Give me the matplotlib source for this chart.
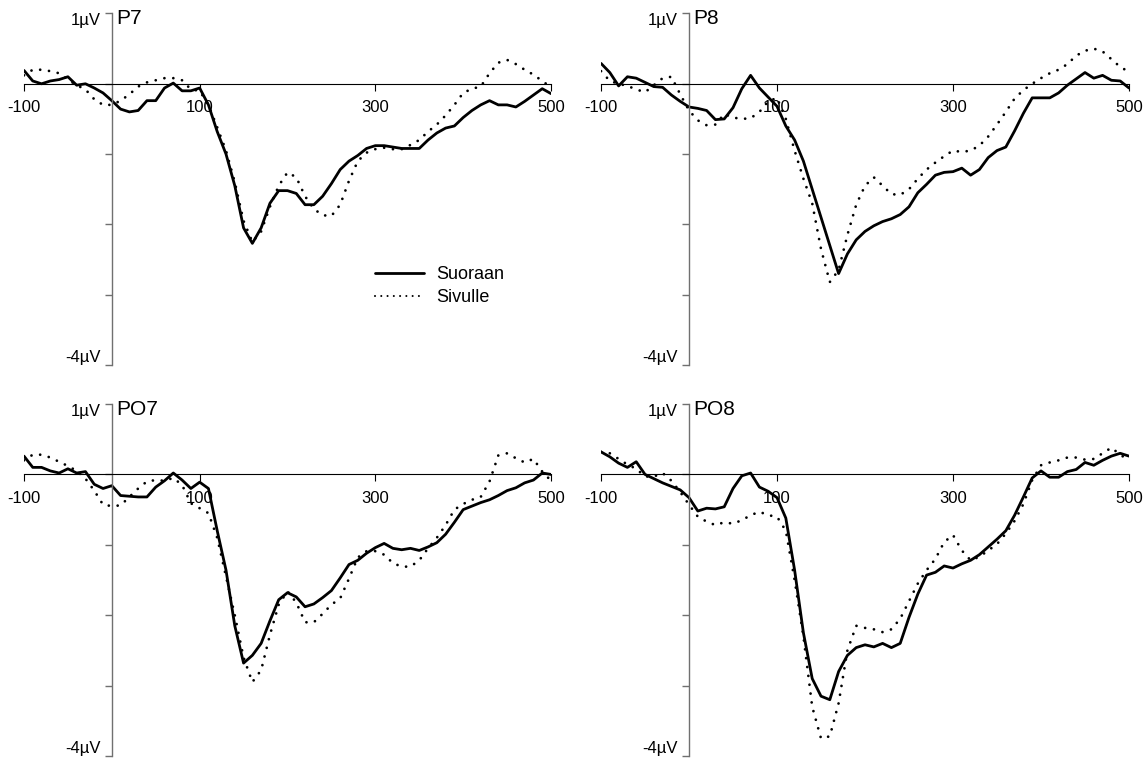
import matplotlib
matplotlib.use("Agg")
import matplotlib.pyplot as plt
import numpy as np

plt.rcParams['font.family'] = ['Liberation Sans', 'DejaVu Sans']

# time axis (ms), one value every 10 ms
times = np.arange(-100, 501, 10)

# amplitudes in microvolts
p7_suoraan = [0.19, 0.04, 0.0, 0.04, 0.06, 0.1, -0.02, 0.0, -0.06, -0.13,
              -0.24, -0.36, -0.4, -0.38, -0.24, -0.24, -0.06, 0.01, -0.1, -0.1,
              -0.06, -0.3, -0.68, -1.0, -1.45, -2.05, -2.27, -2.05, -1.7, -1.52,
              -1.52, -1.56, -1.72, -1.72, -1.6, -1.42, -1.22, -1.1, -1.02, -0.92,
              -0.88, -0.88, -0.9, -0.92, -0.92, -0.92, -0.8, -0.7, -0.63, -0.6,
              -0.48, -0.38, -0.3, -0.24, -0.3, -0.3, -0.33, -0.25, -0.16, -0.07,
              -0.14]
p7_sivulle = [0.12, 0.2, 0.2, 0.18, 0.15, 0.06, -0.02, -0.08, -0.22, -0.3,
              -0.3, -0.24, -0.15, -0.04, 0.02, 0.05, 0.08, 0.08, 0.05, -0.08,
              -0.1, -0.3, -0.62, -0.95, -1.4, -1.95, -2.25, -2.1, -1.75, -1.45,
              -1.26, -1.33, -1.6, -1.78, -1.87, -1.88, -1.72, -1.38, -1.1, -0.98,
              -0.93, -0.91, -0.93, -0.93, -0.87, -0.8, -0.68, -0.58, -0.45, -0.3,
              -0.13, -0.07, -0.04, 0.15, 0.3, 0.34, 0.28, 0.2, 0.13, 0.04,
              -0.05]
p8_suoraan = [0.29, 0.16, -0.03, 0.1, 0.08, 0.02, -0.04, -0.05, -0.16, -0.25,
              -0.33, -0.35, -0.38, -0.51, -0.5, -0.34, -0.07, 0.12, -0.06, -0.19,
              -0.32, -0.6, -0.8, -1.1, -1.5, -1.9, -2.3, -2.7, -2.42, -2.22,
              -2.1, -2.02, -1.96, -1.92, -1.86, -1.75, -1.55, -1.43, -1.3, -1.26,
              -1.25, -1.2, -1.3, -1.22, -1.05, -0.95, -0.9, -0.67, -0.42, -0.2,
              -0.2, -0.2, -0.13, -0.02, 0.07, 0.16, 0.08, 0.12, 0.05, 0.04,
              -0.06]
p8_sivulle = [0.18, 0.04, 0.0, -0.03, -0.08, -0.12, -0.02, 0.08, 0.1, -0.15,
              -0.38, -0.52, -0.59, -0.58, -0.43, -0.48, -0.5, -0.49, -0.4, -0.25,
              -0.2, -0.5, -0.95, -1.35, -1.7, -2.35, -2.82, -2.65, -2.15, -1.72,
              -1.45, -1.33, -1.45, -1.57, -1.58, -1.5, -1.35, -1.22, -1.12, -1.03,
              -0.95, -0.97, -0.95, -0.88, -0.75, -0.58, -0.4, -0.21, -0.09, 0.0,
              0.08, 0.15, 0.2, 0.28, 0.4, 0.47, 0.5, 0.46, 0.35, 0.24,
              0.17]
po7_suoraan = [0.26, 0.1, 0.1, 0.05, 0.02, 0.08, 0.02, 0.04, -0.14, -0.2,
               -0.16, -0.3, -0.31, -0.32, -0.32, -0.18, -0.09, 0.02, -0.08, -0.2,
               -0.11, -0.2, -0.8, -1.36, -2.15, -2.68, -2.57, -2.4, -2.08, -1.78,
               -1.68, -1.74, -1.88, -1.84, -1.75, -1.65, -1.47, -1.28, -1.22, -1.12,
               -1.04, -0.98, -1.05, -1.07, -1.05, -1.08, -1.03, -0.97, -0.85, -0.68,
               -0.5, -0.45, -0.4, -0.36, -0.3, -0.23, -0.19, -0.12, -0.08, 0.02,
               0.0]
po7_sivulle = [0.2, 0.28, 0.28, 0.24, 0.18, 0.12, 0.05, -0.06, -0.23, -0.43,
               -0.45, -0.44, -0.32, -0.2, -0.1, -0.08, -0.09, -0.05, -0.15, -0.41,
               -0.48, -0.55, -0.9, -1.45, -2.0, -2.6, -2.95, -2.78, -2.28, -1.85,
               -1.66, -1.82, -2.1, -2.1, -1.98, -1.85, -1.76, -1.48, -1.18, -1.09,
               -1.09, -1.14, -1.26, -1.31, -1.31, -1.22, -1.05, -0.9, -0.72, -0.5,
               -0.42, -0.36, -0.32, -0.1, 0.27, 0.3, 0.23, 0.17, 0.22, 0.04,
               -0.09]
po8_suoraan = [0.32, 0.25, 0.16, 0.1, 0.18, 0.0, -0.06, -0.12, -0.17, -0.22,
               -0.33, -0.52, -0.48, -0.49, -0.46, -0.2, -0.02, 0.02, -0.18, -0.24,
               -0.33, -0.62, -1.36, -2.25, -2.9, -3.15, -3.2, -2.8, -2.57, -2.46,
               -2.42, -2.45, -2.4, -2.46, -2.4, -2.03, -1.7, -1.43, -1.39, -1.3,
               -1.33, -1.27, -1.22, -1.14, -1.03, -0.92, -0.8, -0.58, -0.32, -0.05,
               0.05, -0.04, -0.04, 0.04, 0.07, 0.17, 0.13, 0.2, 0.26, 0.3,
               0.26]
po8_sivulle = [0.32, 0.3, 0.22, 0.14, 0.08, -0.03, -0.03, 0.02, -0.09, -0.25,
               -0.43, -0.6, -0.67, -0.72, -0.68, -0.7, -0.65, -0.58, -0.53, -0.58,
               -0.6, -0.8, -1.5, -2.3, -3.3, -3.75, -3.72, -3.25, -2.5, -2.15,
               -2.18, -2.2, -2.24, -2.2, -2.05, -1.8, -1.55, -1.36, -1.2, -0.96,
               -0.86, -1.08, -1.22, -1.17, -1.08, -0.99, -0.84, -0.66, -0.42, -0.08,
               0.13, 0.17, 0.2, 0.24, 0.24, 0.21, 0.22, 0.3, 0.38, 0.28,
               0.2]

panel_names = ["P7", "P8", "PO7", "PO8"]
suoraan = [p7_suoraan, p8_suoraan, po7_suoraan, po8_suoraan]
sivulle = [p7_sivulle, p8_sivulle, po7_sivulle, po8_sivulle]
xtick_vals = [-100, 100, 300, 500]
xtick_labels = ["-100", "100", "300", "500"]

fig = plt.figure(figsize=(11.47, 7.58), dpi=100)
positions = [[0.0209, 0.5185, 0.4595, 0.4637],
             [0.524, 0.5185, 0.4603, 0.4637],
             [0.0209, 0.0026, 0.4595, 0.4644],
             [0.524, 0.0026, 0.4603, 0.4644]]

dotted = (0, (0.01, 3.2))

axes = []
for i in range(4):
    ax = fig.add_axes(positions[i])
    ax.patch.set_alpha(0)
    ax.plot(times, suoraan[i], color='black', lw=2.0,
            solid_joinstyle='round', solid_capstyle='round', label='Suoraan')
    ax.plot(times, sivulle[i], color='black', lw=2.0, linestyle=dotted,
            dash_capstyle='round', label='Sivulle')
    ax.set_xlim(-100, 500)
    ax.set_ylim(-4, 1)

    ax.spines['top'].set_visible(False)
    ax.spines['right'].set_visible(False)
    ax.spines['left'].set_position(('data', 0))
    ax.spines['bottom'].set_position(('data', 0))
    ax.spines['left'].set_color('#707070')
    ax.spines['left'].set_linewidth(1.0)
    ax.spines['bottom'].set_color('black')
    ax.spines['bottom'].set_linewidth(0.8)

    ax.set_xticks(xtick_vals)
    ax.set_xticklabels(xtick_labels)
    ax.tick_params(axis='x', direction='out', length=5, width=0.8, pad=7,
                   labelsize=12, colors='black')
    ax.set_yticks([-4, -3, -2, -1, 0, 1])
    ax.set_yticklabels(['-4µV', '', '', '', '', '1µV'])
    ax.tick_params(axis='y', direction='out', length=5, width=1.0, pad=3,
                   labelsize=12, color='#707070', labelcolor='black')
    ylabels = ax.get_yticklabels()
    ylabels[0].set_va('bottom')
    ylabels[-1].set_va('top')

    ax.annotate(panel_names[i], xy=(0, 1), xytext=(3, 3), textcoords='offset points',
                ha='left', va='top', fontsize=15)
    axes.append(ax)

leg = axes[0].legend(loc='upper left', bbox_to_anchor=(375 / 1147, 1 - 266 / 758),
                     bbox_transform=fig.transFigure, frameon=False, fontsize=13,
                     handlelength=2.7, handletextpad=0.7, labelspacing=0.35,
                     borderaxespad=0, borderpad=0)
# finer dots in the legend sample, as in the original
leg.get_lines()[1].set_linewidth(1.5)
leg.get_lines()[1].set_linestyle((0, (0.01, 3.0)))

fig.savefig("out.png", dpi=100)
